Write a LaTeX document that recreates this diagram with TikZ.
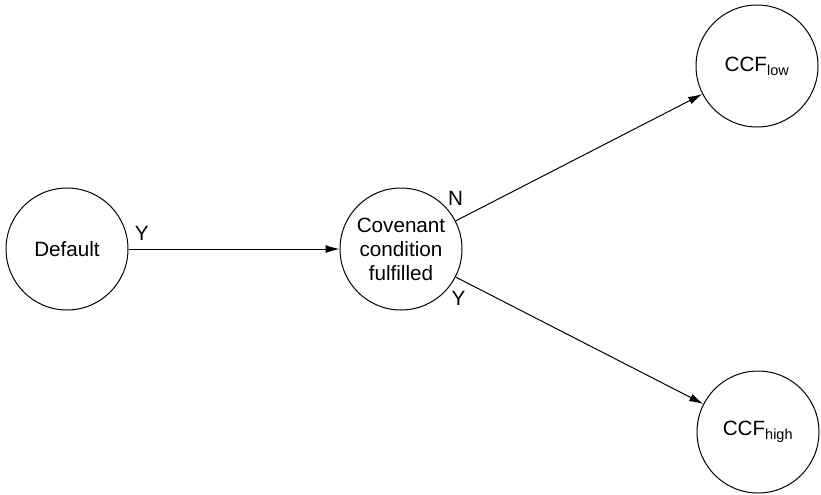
\documentclass[tikz,border=0pt]{standalone}
\usepackage{fontspec}
\setmainfont{Liberation Sans}
\usetikzlibrary{arrows.meta,positioning}

\begin{document}
\begin{tikzpicture}[x=0.75pt, y=-0.75pt, every node/.style={font=\fontsize{15.5}{18}\selectfont},
  state/.style={circle, draw, line width=0.75pt, minimum size=91.5pt, inner sep=0pt, align=center},
  flow/.style={-{Latex[length=10.5pt,width=6pt]}, line width=0.75pt}]
            \useasboundingbox (0,0) rectangle (821,494);
            \node[state] (default) at (67,249) {Default};
            \node[state] (covenant) at (401,249) {Covenant\\condition\\fulfilled};
            \node[state] (low) at (757,66) {CCF\textsubscript{low}};
            \node[state] (high) at (758,432) {CCF\textsubscript{high}};

            \draw[flow] (default) -- node[at start, above right=3pt and 1pt] {Y} (covenant);
            \draw[flow] (covenant) -- node[at start, above=8pt] {N} (low);
            \draw[flow] (covenant) -- node[at start, below=7pt, xshift=2pt] {Y} (high);
        \end{tikzpicture}
\end{document}
